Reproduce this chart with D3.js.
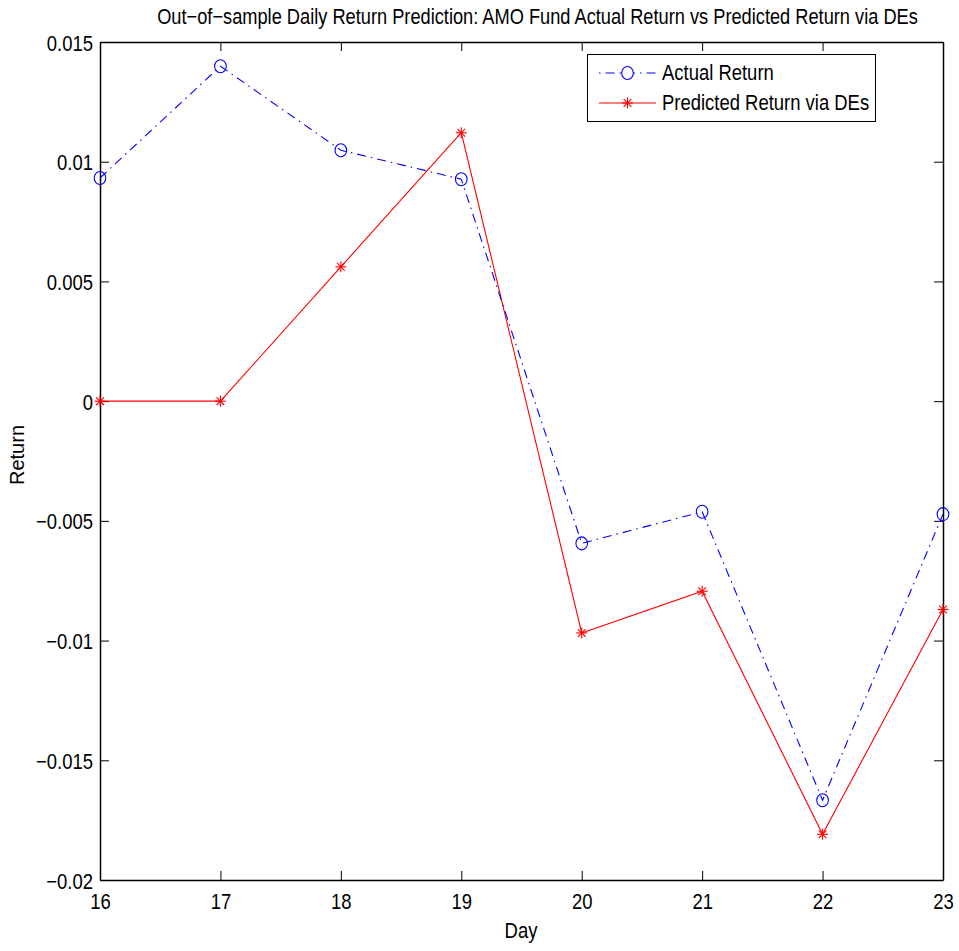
<!DOCTYPE html>
<html>
<head>
<meta charset="utf-8">
<script src="https://cdn.jsdelivr.net/npm/d3@7"></script>
<style>
  html, body { margin: 0; padding: 0; background: #fff; }
  svg { display: block; font-family: "Liberation Sans", Arial, Helvetica, sans-serif; }
</style>
</head>
<body>
<svg id="chart" width="959" height="951"></svg>
<script>
// Out-of-sample daily returns for the AMO fund, days 16–23
const days = [16, 17, 18, 19, 20, 21, 22, 23];
const actualReturn = [0.00932, 0.01399, 0.01048, 0.00927, -0.00594, -0.00462, -0.01667, -0.00472];
const predictedReturn = [0, 0, 0.00561, 0.01121, -0.00968, -0.00794, -0.01809, -0.00870];
const yTicks = [0.015, 0.01, 0.005, 0, -0.005, -0.01, -0.015, -0.02];
const yTickLabels = ["0.015", "0.01", "0.005", "0", "\u22120.005", "\u22120.01", "\u22120.015", "\u22120.02"];
const seriesNames = ["Actual Return", "Predicted Return via DEs"];
const titleText = "Out\u2212of\u2212sample Daily Return Prediction: AMO Fund Actual Return vs Predicted Return via DEs";

const svg = d3.select("#chart");
const plotLeft = 100, plotRight = 943, plotTop = 42, plotBottom = 880;

const x = d3.scaleLinear().domain([16, 23]).range([plotLeft, plotRight]);
const y = d3.scaleLinear().domain([-0.02, 0.015]).range([plotBottom, plotTop]);

const fontSize = 22.5;
const narrow = 0.82;   // horizontal text is set in a condensed face
const tickLen = 9;

// Squeeze a text element horizontally by the condensed factor
function condense(sel, k = narrow) {
  sel.each(function () {
    const w = this.getComputedTextLength();
    if (w > 0) d3.select(this).attr("textLength", w * k).attr("lengthAdjust", "spacingAndGlyphs");
  });
}

// Title: condensed with a horizontal scale so it spans 761px centred at x=537.5
const titleG = svg.append("g");
const title = titleG.append("text")
  .attr("x", 0).attr("y", 0)
  .attr("text-anchor", "middle")
  .attr("font-size", fontSize)
  .text(titleText);
const titleW = title.node().getComputedTextLength();
titleG.attr("transform", `translate(537.5,24) scale(${761 / titleW},1)`);

// Axes (box style with ticks on all sides, pointing inward)
const gBottom = svg.append("g").attr("transform", `translate(0,${plotBottom})`)
  .call(d3.axisBottom(x).tickValues(days).tickFormat(d3.format("d")).tickSizeInner(-tickLen).tickSizeOuter(0).tickPadding(13));
const gTop = svg.append("g").attr("transform", `translate(0,${plotTop})`)
  .call(d3.axisTop(x).tickValues(days).tickFormat("").tickSizeInner(-tickLen).tickSizeOuter(0));
const gLeft = svg.append("g").attr("transform", `translate(${plotLeft},0)`)
  .call(d3.axisLeft(y).tickValues(yTicks).tickFormat((d, i) => yTickLabels[i]).tickSizeInner(-tickLen).tickSizeOuter(0).tickPadding(7));
const gRight = svg.append("g").attr("transform", `translate(${plotRight},0)`)
  .call(d3.axisRight(y).tickValues(yTicks).tickFormat("").tickSizeInner(-tickLen).tickSizeOuter(0));

[gBottom, gTop, gLeft, gRight].forEach(g => {
  g.select(".domain").attr("stroke", "#000").attr("stroke-width", 1.5);
  g.selectAll(".tick line").attr("stroke", "#000").attr("stroke-width", 1);
  g.selectAll(".tick text").attr("font-size", fontSize).attr("fill", "#000")
    .attr("font-family", "\"Liberation Sans\", Arial, sans-serif");
});
gBottom.selectAll(".tick text").attr("dy", "0.71em");
gLeft.selectAll(".tick text").attr("dy", "0.36em");
condense(gBottom.selectAll(".tick text"));
condense(gLeft.selectAll(".tick text"));

// Axis labels
condense(svg.append("text")
  .attr("x", 521)
  .attr("y", 938)
  .attr("text-anchor", "middle")
  .attr("font-size", fontSize)
  .text("Day"));
svg.append("text")
  .attr("transform", `translate(23.5,455) rotate(-90)`)
  .attr("text-anchor", "middle")
  .attr("font-size", 20)
  .text("Return");

const line = d3.line().x(d => x(d[0])).y(d => y(d[1]));

const predData = days.map((d, i) => [d, predictedReturn[i]]);
const actData = days.map((d, i) => [d, actualReturn[i]]);

// Predicted series: solid red with asterisks
svg.append("path").datum(predData)
  .attr("d", line).attr("fill", "none").attr("stroke", "#ff0000").attr("stroke-width", 1.1);

function asterisk(g, cx, cy, r) {
  const pts = [[0, -r, 0, r], [-r, 0, r, 0], [-r * 0.7, -r * 0.7, r * 0.7, r * 0.7], [-r * 0.7, r * 0.7, r * 0.7, -r * 0.7]];
  pts.forEach(p => g.append("line")
    .attr("x1", cx + p[0]).attr("y1", cy + p[1]).attr("x2", cx + p[2]).attr("y2", cy + p[3])
    .attr("stroke", "#ff0000").attr("stroke-width", 1.1));
}

// Actual series: blue dash-dot with open circles
svg.append("path").datum(actData)
  .attr("d", line).attr("fill", "none").attr("stroke", "#0000ff").attr("stroke-width", 1.1)
  .attr("stroke-dasharray", "9,5,1.5,5");

const gPred = svg.append("g");
predData.forEach(d => asterisk(gPred, x(d[0]), y(d[1]), 5.5));

svg.append("g").selectAll("ellipse").data(actData).join("ellipse")
  .attr("cx", d => x(d[0])).attr("cy", d => y(d[1]))
  .attr("rx", 5.8).attr("ry", 6.5)
  .attr("fill", "none").attr("stroke", "#0000ff").attr("stroke-width", 1.1);

// Legend
const lg = svg.append("g");
lg.append("rect").attr("x", 587.5).attr("y", 54.5).attr("width", 288).attr("height", 67)
  .attr("fill", "#fff").attr("stroke", "#000").attr("stroke-width", 1);
const legendRows = [{ name: seriesNames[0], yy: 73 }, { name: seriesNames[1], yy: 103 }];
// Actual Return sample
lg.append("line").attr("x1", 599).attr("x2", 656).attr("y1", legendRows[0].yy).attr("y2", legendRows[0].yy)
  .attr("stroke", "#0000ff").attr("stroke-width", 1.1).attr("stroke-dasharray", "1.5,5,9,5");
lg.append("ellipse").attr("cx", 627.5).attr("cy", legendRows[0].yy).attr("rx", 5.8).attr("ry", 6.5)
  .attr("fill", "#fff").attr("stroke", "#0000ff").attr("stroke-width", 1.1);
// Predicted sample
lg.append("line").attr("x1", 599).attr("x2", 656).attr("y1", legendRows[1].yy).attr("y2", legendRows[1].yy)
  .attr("stroke", "#ff0000").attr("stroke-width", 1.1);
asterisk(lg, 627.5, legendRows[1].yy, 5.5);
legendRows.forEach(r => condense(lg.append("text")
  .attr("x", 662).attr("y", r.yy + 7)
  .attr("font-size", fontSize).text(r.name)));
</script>
</body>
</html>
